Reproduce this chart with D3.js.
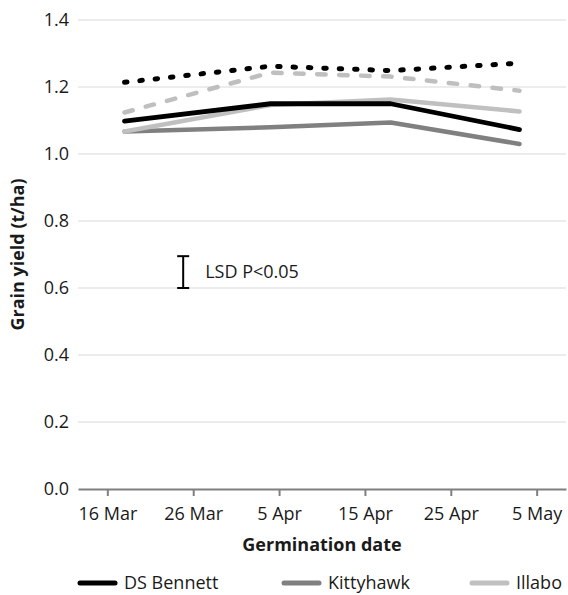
<!DOCTYPE html>
<html>
<head>
<meta charset="utf-8">
<script src="https://cdn.jsdelivr.net/npm/d3@7"></script>
<style>
  html, body { margin: 0; padding: 0; background: #fff; }
  svg { display: block; font-family: "Open Sans", "Noto Sans", sans-serif; }
</style>
</head>
<body>
<svg id="chart" width="568" height="595"></svg>
<script>
// ---- data ----
const germDates = ["2019-03-18", "2019-04-04", "2019-04-18", "2019-05-03"];
const dsBennett = [1.098, 1.150, 1.150, 1.073];
const kittyhawk = [1.067, 1.080, 1.094, 1.030];
const illabo    = [1.067, 1.146, 1.163, 1.127];
const seriesDotted = [1.214, 1.262, 1.249, 1.271];
const seriesDashed = [1.124, 1.243, 1.231, 1.189];
const yTicks = [0.0, 0.2, 0.4, 0.6, 0.8, 1.0, 1.2, 1.4];
const xTickDates = ["2019-03-16", "2019-03-26", "2019-04-05", "2019-04-15", "2019-04-25", "2019-05-05"];
const lsdDate = "2019-03-24T20:00";
const lsdLow = 0.600, lsdHigh = 0.695;
const lsdLabel = "LSD P<0.05";
const legendNames = ["DS Bennett", "Kittyhawk", "Illabo"];

const parse = s => new Date(s.length > 10 ? s : s + "T00:00");

const series = [
  { name: "Kittyhawk", values: kittyhawk, color: "#808080", dash: null, w: 4.5 },
  { name: "Illabo", values: illabo, color: "#c0c0c0", dash: null, w: 4.5 },
  { name: "DS Bennett", values: dsBennett, color: "#000000", dash: null, w: 4.8 },
  { name: "dashed", values: seriesDashed, color: "#bfbfbf", dash: "8.5 13.5", w: 4.5 },
  { name: "dotted", values: seriesDotted, color: "#000000", dash: "2.5 12.9", w: 5 }
];

// ---- layout ----
const svg = d3.select("#chart");
const mLeft = 78, mRight = 566, mTop = 20, mBottom = 489;

const x = d3.scaleTime()
  .domain([new Date(2019, 2, 12, 14), new Date(2019, 4, 8, 10)])
  .range([mLeft, mRight]);
const y = d3.scaleLinear().domain([0, 1.4]).range([mBottom, mTop]);

// gridlines
svg.append("g")
  .selectAll("line")
  .data(yTicks.filter(d => d > 0))
  .join("line")
  .attr("x1", mLeft).attr("x2", mRight)
  .attr("y1", d => y(d)).attr("y2", d => y(d))
  .attr("stroke", "#d9d9d9").attr("stroke-width", 1);

// y labels
const yAxis = svg.append("g").attr("transform", `translate(${mLeft},0)`)
  .call(d3.axisLeft(y).tickValues(yTicks).tickFormat(d3.format(".1f")).tickSize(0).tickPadding(9));
yAxis.select(".domain").remove();
yAxis.selectAll("text").attr("font-size", 18).attr("fill", "#1a1a1a")
  .attr("font-family", "'Open Sans', sans-serif");

// x axis
const xAxis = svg.append("g").attr("transform", `translate(0,${mBottom})`)
  .call(d3.axisBottom(x).tickValues(xTickDates.map(parse))
    .tickFormat(d3.timeFormat("%-d %b")).tickSize(7).tickSizeOuter(0).tickPadding(11));
xAxis.select(".domain").attr("stroke", "#7f7f7f").attr("stroke-width", 2);
xAxis.selectAll(".tick line").attr("stroke", "#7f7f7f").attr("stroke-width", 2);
xAxis.selectAll("text").attr("font-size", 18).attr("fill", "#1a1a1a")
  .attr("font-family", "'Open Sans', sans-serif");

// lines
const line = d3.line()
  .x((d, i) => x(parse(germDates[i])))
  .y(d => y(d));

svg.append("g").selectAll("path")
  .data(series)
  .join("path")
  .attr("d", d => line(d.values))
  .attr("fill", "none")
  .attr("stroke", d => d.color)
  .attr("stroke-width", d => d.w)
  .attr("stroke-linecap", "round")
  .attr("stroke-linejoin", "round")
  .attr("stroke-dasharray", d => d.dash);

// LSD bar
const lx = x(parse(lsdDate));
const g = svg.append("g").attr("stroke", "#000").attr("stroke-width", 2);
g.append("line").attr("x1", lx).attr("x2", lx).attr("y1", y(lsdLow)).attr("y2", y(lsdHigh));
g.append("line").attr("x1", lx - 6).attr("x2", lx + 6).attr("y1", y(lsdLow)).attr("y2", y(lsdLow));
g.append("line").attr("x1", lx - 6).attr("x2", lx + 6).attr("y1", y(lsdHigh)).attr("y2", y(lsdHigh));
svg.append("text")
  .attr("x", lx + 22).attr("y", y((lsdLow + lsdHigh) / 2))
  .attr("dy", "0.35em")
  .attr("font-size", 18).attr("fill", "#1a1a1a")
  .text(lsdLabel);

// axis titles
svg.append("text")
  .attr("x", (mLeft + mRight) / 2).attr("y", 551)
  .attr("text-anchor", "middle").attr("font-size", 18).attr("font-weight", "bold")
  .attr("fill", "#1a1a1a")
  .text("Germination date");
svg.append("text")
  .attr("transform", `translate(18,${(mTop + mBottom) / 2}) rotate(-90)`)
  .attr("text-anchor", "middle").attr("dy", "0.35em")
  .attr("font-size", 18).attr("font-weight", "bold").attr("fill", "#1a1a1a")
  .text("Grain yield (t/ha)");

// legend
const legendX = [78, 282, 470];
const legSeries = legendNames.map(n => series.find(s => s.name === n));
const leg = svg.append("g").selectAll("g")
  .data(legSeries)
  .join("g")
  .attr("transform", (d, i) => `translate(${legendX[i]},583)`);
leg.append("line").attr("x1", 2).attr("x2", 37).attr("y1", 0).attr("y2", 0)
  .attr("stroke", d => d.color).attr("stroke-width", 5).attr("stroke-linecap", "round");
leg.append("text").attr("x", 46).attr("dy", "0.35em")
  .attr("font-size", 18).attr("fill", "#1a1a1a").text(d => d.name);
</script>
</body>
</html>
